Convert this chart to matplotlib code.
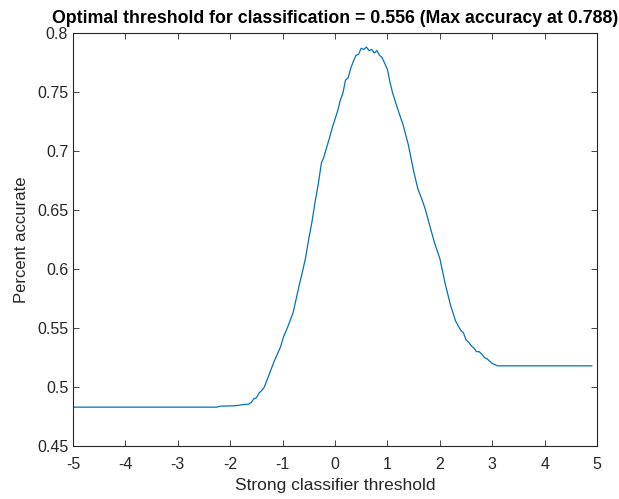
import matplotlib.pyplot as plt

plt.rcParams['font.family'] = ['Liberation Sans', 'DejaVu Sans']
plt.rcParams['axes.unicode_minus'] = False

# threshold values and accuracy
thresh = [-5.0, -2.25, -2.2, -1.9, -1.75, -1.65, -1.6, -1.55, -1.5, -1.45,
          -1.4, -1.35, -1.28, -1.22, -1.16, -1.10, -1.04, -0.98, -0.92, -0.86,
          -0.80, -0.74, -0.68, -0.62, -0.56, -0.50, -0.44, -0.38, -0.32, -0.26,
          -0.22, -0.16, -0.10, -0.05, 0.0, 0.05, 0.10, 0.15, 0.20, 0.25,
          0.30, 0.35, 0.40, 0.45, 0.50, 0.55, 0.60, 0.65, 0.70, 0.75,
          0.80, 0.85, 0.90, 0.95, 1.00, 1.05, 1.10, 1.20, 1.30, 1.40,
          1.50, 1.58, 1.65, 1.72, 1.80, 1.90, 2.00, 2.10, 2.20, 2.30,
          2.35, 2.40, 2.45, 2.50, 2.55, 2.60, 2.65, 2.70, 2.75, 2.80,
          2.85, 2.90, 2.95, 3.00, 3.05, 3.10, 4.90]
accuracy = [0.483, 0.483, 0.4838, 0.4842, 0.4852, 0.4855, 0.487, 0.490, 0.491, 0.495,
            0.497, 0.500, 0.508, 0.515, 0.522, 0.528, 0.534, 0.543, 0.549, 0.556,
            0.563, 0.575, 0.587, 0.598, 0.610, 0.626, 0.640, 0.657, 0.672, 0.690,
            0.694, 0.703, 0.712, 0.720, 0.727, 0.734, 0.743, 0.749, 0.760, 0.762,
            0.770, 0.776, 0.781, 0.782, 0.787, 0.786, 0.788, 0.785, 0.786, 0.783,
            0.785, 0.781, 0.779, 0.774, 0.769, 0.758, 0.749, 0.735, 0.722, 0.705,
            0.683, 0.668, 0.660, 0.651, 0.638, 0.622, 0.609, 0.588, 0.570, 0.556,
            0.552, 0.548, 0.546, 0.540, 0.538, 0.535, 0.533, 0.530, 0.530, 0.528,
            0.525, 0.524, 0.522, 0.520, 0.519, 0.518, 0.518]

xticks = [-5, -4, -3, -2, -1, 0, 1, 2, 3, 4, 5]
yticks = [0.45, 0.5, 0.55, 0.6, 0.65, 0.7, 0.75, 0.8]

fig = plt.figure(figsize=(6.19, 4.99), dpi=100)
ax = fig.add_axes([0.118, 0.106, 0.8465, 0.828])
ax.plot(thresh, accuracy, color='#0072BD', lw=0.9)
ax.set_xlim(-5, 5)
ax.set_ylim(0.45, 0.8)
ax.set_xticks(xticks)
ax.set_yticks(yticks)
ax.set_yticklabels([('%g' % v) for v in yticks])
ax.tick_params(direction='in', top=True, right=True, labelsize=11.5,
               colors='#262626', length=4, width=0.6)
ax.tick_params(axis='x', pad=8)
for s in ax.spines.values():
    s.set_color('#262626')
    s.set_linewidth(0.8)
ax.set_xlabel('Strong classifier threshold', fontsize=12.5, color='#262626')
ax.set_ylabel('Percent accurate', fontsize=12, color='#262626', labelpad=6)
ax.set_title('Optimal threshold for classification = 0.556 (Max accuracy at 0.788)',
             fontsize=12.8, fontweight='bold', pad=7)
fig.savefig('out.png', dpi=100)
